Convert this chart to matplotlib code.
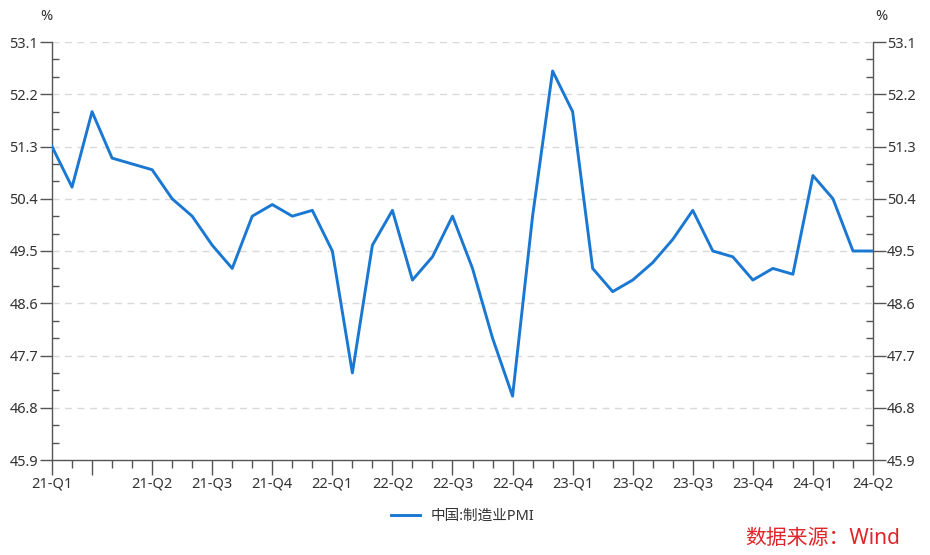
import numpy as np
import matplotlib
matplotlib.use('agg')
import matplotlib.pyplot as plt
from matplotlib.ticker import FixedLocator, MultipleLocator

plt.rcParams['font.family'] = ['Noto Sans', 'Noto Sans CJK SC', 'DejaVu Sans']

# monthly China manufacturing PMI, 2021-01 .. 2024-06
pmi = [51.3, 50.6, 51.9, 51.1, 51.0, 50.9, 50.4, 50.1, 49.6, 49.2, 50.1, 50.3,
       50.1, 50.2, 49.5, 47.4, 49.6, 50.2, 49.0, 49.4, 50.1, 49.2, 48.0, 47.0,
       50.1, 52.6, 51.9, 49.2, 48.8, 49.0, 49.3, 49.7, 50.2, 49.5, 49.4, 49.0,
       49.2, 49.1, 50.8, 50.4, 49.5, 49.5]
tick_pos = [0, 2, 5, 8, 11, 14, 17, 20, 23, 26, 29, 32, 35, 38, 41]
tick_labels = ['21-Q1', '', '21-Q2', '21-Q3', '21-Q4', '22-Q1', '22-Q2', '22-Q3',
               '22-Q4', '23-Q1', '23-Q2', '23-Q3', '23-Q4', '24-Q1', '24-Q2']
y_ticks = [45.9, 46.8, 47.7, 48.6, 49.5, 50.4, 51.3, 52.2, 53.1]

axis_col = '#555555'
text_col = '#333333'

fig = plt.figure(figsize=(9.3, 5.55), dpi=100)
ax = fig.add_axes([52 / 930, 95 / 555, 821 / 930, 418 / 555])

x = np.arange(len(pmi))
ax.plot(x, pmi, color='#1a78d2', lw=2.1, label='中国:制造业PMI', zorder=3)

ax.set_xlim(0, len(pmi) - 1)
ax.set_ylim(45.9, 53.1)

for y in y_ticks[1:]:
    ax.axhline(y, color='#d9d9d9', lw=1.0, dashes=(5, 4), zorder=1)

ax.spines['top'].set_visible(False)
for s in ['left', 'right', 'bottom']:
    ax.spines[s].set_color(axis_col)
    ax.spines[s].set_linewidth(1.0)

ax.set_yticks(y_ticks)
ax.set_yticklabels(['%.1f' % v for v in y_ticks])
ax.yaxis.set_minor_locator(MultipleLocator(0.3))
ax.tick_params(axis='y', which='major', direction='out', length=9, width=1,
               color=axis_col, labelcolor=text_col, labelsize=10.5, pad=1,
               left=True, right=True, labelleft=True, labelright=True)
ax.tick_params(axis='y', which='minor', direction='in', length=5, width=1,
               color=axis_col, left=True, right=True)

ax.xaxis.set_major_locator(FixedLocator(tick_pos))
ax.set_xticklabels(tick_labels)
ax.xaxis.set_minor_locator(MultipleLocator(1))
ax.tick_params(axis='x', which='major', direction='out', length=11, width=1,
               color=axis_col, labelcolor=text_col, labelsize=10.5, pad=1)
ax.tick_params(axis='x', which='minor', direction='out', length=6, width=1,
               color=axis_col)

fig.text(52 / 930, 1 - 16 / 555, '%', ha='right', va='center', fontsize=10.5, color=text_col)
fig.text(873 / 930 + 0.002, 1 - 16 / 555, '%', ha='left', va='center', fontsize=10.5, color=text_col)

leg = ax.legend(loc='center', bbox_to_anchor=(0.5, -0.135), frameon=False,
                fontsize=10.5, handlelength=2.0, handletextpad=0.7)
for t in leg.get_texts():
    t.set_color(text_col)

fig.text(900 / 930, 1 - 538 / 555, '数据来源：Wind', ha='right', va='center',
         fontsize=15, color='#e0252b')

fig.savefig('out.png', dpi=100)
